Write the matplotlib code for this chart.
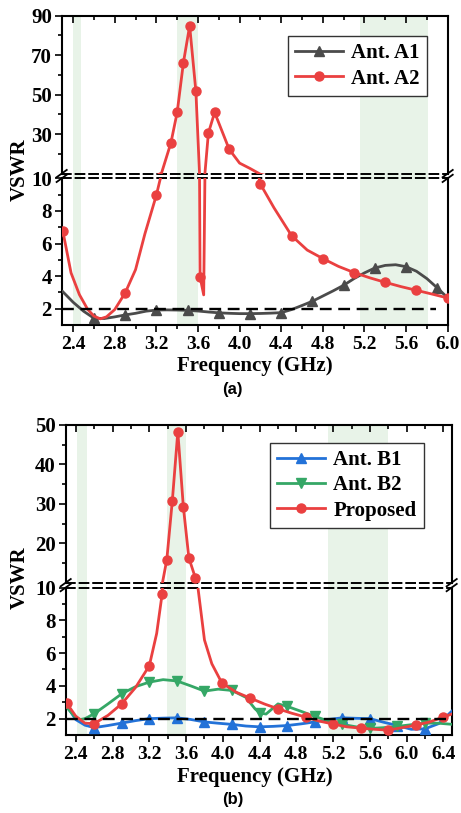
import matplotlib
matplotlib.use('Agg')
import matplotlib.pyplot as plt
from matplotlib.lines import Line2D
from matplotlib.ticker import MultipleLocator, FixedLocator, FormatStrFormatter

plt.rcParams['font.family'] = ['Liberation Serif', 'DejaVu Serif']
plt.rcParams['font.weight'] = 'bold'
plt.rcParams['axes.labelweight'] = 'bold'

# ---- (a) reference antennas A1 / A2
a1_freq = [2.3, 2.4, 2.5, 2.6, 2.7, 2.8, 2.9, 3.0, 3.1, 3.2, 3.3, 3.4, 3.5,
           3.6, 3.7, 3.8, 3.9, 4.0, 4.1, 4.2, 4.3, 4.4, 4.5, 4.6, 4.7, 4.8,
           4.9, 5.0, 5.1, 5.2, 5.3, 5.4, 5.5, 5.6, 5.7, 5.8, 5.9, 6.0]
a1_vswr = [3.05, 2.4, 1.85, 1.42, 1.4, 1.5, 1.62, 1.72, 1.85, 1.92, 1.93,
           1.92, 1.9, 1.86, 1.8, 1.75, 1.72, 1.7, 1.7, 1.71, 1.73, 1.76,
           1.95, 2.2, 2.46, 2.78, 3.1, 3.44, 3.85, 4.2, 4.5, 4.66, 4.7,
           4.58, 4.3, 3.85, 3.28, 2.67]
a1_marks = [2.6, 2.9, 3.2, 3.5, 3.8, 4.1, 4.4, 4.7, 5.0, 5.3, 5.6, 5.9]

a2_freq = [2.3, 2.38, 2.46, 2.54, 2.6, 2.66, 2.72, 2.8, 2.9, 3.0, 3.09, 3.2,
           3.25, 3.34, 3.4, 3.46, 3.52, 3.58, 3.62, 3.655, 3.7, 3.76, 3.9,
           4.0, 4.1, 4.2, 4.33, 4.5, 4.65, 4.8, 4.95, 5.1, 5.25, 5.4, 5.55,
           5.7, 5.85, 6.0]
a2_vswr = [6.8, 4.2, 2.87, 1.96, 1.55, 1.38, 1.5, 1.95, 2.97, 4.4, 6.6, 8.97,
           10.3, 25.6, 41.0, 66.2, 84.9, 51.6, 3.95, 2.85, 30.5, 41.0, 22.3,
           15.3, 12.6, 9.65, 8.2, 6.48, 5.6, 5.08, 4.6, 4.22, 3.9, 3.62,
           3.36, 3.13, 2.9, 2.66]
a2_marks = [2.3, 2.9, 3.2, 3.34, 3.4, 3.46, 3.52, 3.58, 3.62, 3.7, 3.76, 3.9,
            4.2, 4.5, 4.8, 5.1, 5.4, 5.7, 6.0]

# ---- (b) antennas B1 / B2 and the proposed design
b1_freq = [2.3, 2.4, 2.5, 2.6, 2.75, 2.9, 3.05, 3.2, 3.35, 3.5, 3.65, 3.8,
           3.95, 4.1, 4.25, 4.4, 4.55, 4.7, 4.85, 5.0, 5.15, 5.3, 5.45, 5.6,
           5.75, 5.9, 6.05, 6.2, 6.35, 6.5]
b1_vswr = [2.8, 1.94, 1.6, 1.45, 1.58, 1.73, 1.88, 2.0, 2.03, 2.05, 1.95,
           1.8, 1.72, 1.65, 1.55, 1.5, 1.53, 1.58, 1.68, 1.8, 1.95, 2.05,
           2.02, 2.0, 1.78, 1.58, 1.35, 1.38, 1.7, 2.5]
b1_marks = [2.6, 2.9, 3.2, 3.5, 3.8, 4.1, 4.4, 4.7, 5.0, 5.3, 5.6, 5.9, 6.2]

b2_freq = [2.3, 2.4, 2.45, 2.5, 2.6, 2.75, 2.9, 3.05, 3.2, 3.35, 3.5, 3.65,
           3.8, 3.95, 4.1, 4.25, 4.35, 4.4, 4.47, 4.6, 4.7, 4.85, 5.0, 5.15,
           5.3, 5.45, 5.6, 5.75, 5.9, 6.05, 6.2, 6.35, 6.5]
b2_vswr = [2.7, 2.05, 1.95, 2.0, 2.3, 2.9, 3.52, 3.95, 4.23, 4.38, 4.3, 4.0,
           3.68, 3.8, 3.72, 3.3, 2.6, 2.35, 2.28, 2.9, 2.75, 2.45, 2.14,
           1.85, 1.65, 1.5, 1.4, 1.45, 1.53, 1.63, 1.73, 1.72, 1.65]
b2_marks = [2.6, 2.9, 3.2, 3.5, 3.8, 4.1, 4.4, 4.7, 5.0, 5.3, 5.6, 5.9, 6.2]

prop_freq = [2.3, 2.4, 2.5, 2.6, 2.75, 2.9, 3.05, 3.2, 3.28, 3.34, 3.39, 3.45,
             3.51, 3.57, 3.63, 3.7, 3.8, 3.88, 3.99, 4.15, 4.3, 4.45, 4.6,
             4.75, 4.9, 5.05, 5.2, 5.35, 5.5, 5.65, 5.8, 5.95, 6.1, 6.25,
             6.4, 6.5]
prop_vswr = [2.95, 2.15, 1.72, 1.7, 2.2, 2.91, 3.9, 5.23, 7.2, 9.63, 15.8,
             30.7, 48.3, 29.3, 16.3, 11.3, 6.8, 5.35, 4.17, 3.6, 3.25, 2.9,
             2.6, 2.33, 2.1, 1.85, 1.67, 1.5, 1.42, 1.35, 1.3, 1.45, 1.6,
             1.8, 2.1, 2.3]
prop_marks = [2.3, 2.6, 2.9, 3.2, 3.34, 3.39, 3.45, 3.51, 3.57, 3.63, 3.7,
              3.99, 4.3, 4.6, 4.9, 5.2, 5.5, 5.8, 6.1, 6.4]

# operating bands (GHz)
bands_a = [(2.4, 2.48), (3.4, 3.6), (5.16, 5.81)]
bands_b = [(2.41, 2.52), (3.39, 3.6), (5.14, 5.8)]
vswr_limit = 2
break_at = 10

band_color = '#e8f3e8'
dash = (0, (4.5, 2.5))

fig = plt.figure(figsize=(4.61, 8.13), dpi=100)


def break_marks(x, y0, y1):
    # little "//" across the spine where the axis is cut
    dx, dy = 0.011, 0.0045
    for y in (y0, y1):
        fig.add_artist(Line2D([x - dx, x + dx], [y - dy, y + dy],
                              transform=fig.transFigure, color='k', lw=1.3))


def draw_panel(left, width, up_bot, up_h, lo_bot, lo_h, xlim, up_lim,
               up_major, up_minor, series, bands, ref_end, leg_anchor):
    ax_up = fig.add_axes([left, up_bot, width, up_h])
    ax_lo = fig.add_axes([left, lo_bot, width, lo_h])
    gap = (lo_bot + lo_h - up_bot) / up_h

    for ax in (ax_up, ax_lo):
        for f0, f1 in bands:
            if ax is ax_up:
                ax.axvspan(f0, f1, ymin=gap, ymax=1, color=band_color,
                           lw=0, zorder=0, clip_on=False)
            else:
                ax.axvspan(f0, f1, color=band_color, lw=0, zorder=0)
        for freq, vswr, marks, color, marker, ms, label in series:
            # only put symbols on points that belong to this part of the axis
            idx = [freq.index(m) for m in marks
                   if (vswr[freq.index(m)] >= break_at) == (ax is ax_up)]
            ax.plot(freq, vswr, color=color, lw=2.0, marker=marker, ms=ms,
                    markevery=idx, label=label, zorder=3)
        ax.set_xlim(*xlim)
        ax.xaxis.set_major_locator(MultipleLocator(0.4))
        ax.xaxis.set_minor_locator(MultipleLocator(0.2))
        ax.xaxis.set_major_formatter(FormatStrFormatter('%.1f'))
        for s in ax.spines.values():
            s.set_linewidth(1.5)
        ax.tick_params(axis='both', which='both', width=1.2)
        ax.tick_params(axis='x', labelsize=14)
        ax.tick_params(axis='y', labelsize=15)
        ax.tick_params(axis='both', which='major', length=5)
        ax.tick_params(axis='both', which='minor', length=3)
        ax.tick_params(axis='y', which='both', direction='out', right=False,
                       pad=2)

    ax_up.set_ylim(*up_lim)
    ax_up.yaxis.set_major_locator(FixedLocator(up_major))
    ax_up.yaxis.set_minor_locator(FixedLocator(up_minor))
    ax_up.tick_params(axis='x', which='both', direction='in', top=True,
                      bottom=False, labelbottom=False)
    ax_up.spines['bottom'].set_linestyle(dash)
    ax_up.spines['bottom'].set_linewidth(1.4)

    ax_lo.set_ylim(1, break_at)
    ax_lo.yaxis.set_major_locator(FixedLocator([2, 4, 6, 8, 10]))
    ax_lo.yaxis.set_minor_locator(FixedLocator([3, 5, 7, 9]))
    ax_lo.tick_params(axis='x', which='both', direction='out', top=False,
                      pad=3)
    ax_lo.spines['top'].set_linestyle(dash)
    ax_lo.spines['top'].set_linewidth(1.4)
    ax_lo.axhline(vswr_limit, xmin=0, xmax=ref_end, color='k', lw=1.7,
                  ls=(0, (5, 2.8)), zorder=4)

    break_marks(left, up_bot, lo_bot + lo_h)
    break_marks(left + width, up_bot, lo_bot + lo_h)

    leg = ax_up.legend(loc='upper right', bbox_to_anchor=leg_anchor,
                       borderaxespad=0, fancybox=False, edgecolor='#333333',
                       fontsize=15, handlelength=2.3, handletextpad=0.4,
                       borderpad=0.35, labelspacing=0.25, framealpha=1)
    leg.get_frame().set_linewidth(1.0)
    return ax_up, ax_lo


series_a = [
    (a1_freq, a1_vswr, a1_marks, '#4b4b4b', '^', 7, 'Ant. A1'),
    (a2_freq, a2_vswr, a2_marks, '#ea4040', 'o', 6.5, 'Ant. A2'),
]
series_b = [
    (b1_freq, b1_vswr, b1_marks, '#2372d8', '^', 7, 'Ant. B1'),
    (b2_freq, b2_vswr, b2_marks, '#35a766', 'v', 7, 'Ant. B2'),
    (prop_freq, prop_vswr, prop_marks, '#ea4040', 'o', 6.5, 'Proposed'),
]

draw_panel(0.1338, 0.8373, 0.7865, 0.1942, 0.6002, 0.1804, (2.29, 6.0),
           (10, 90), [30, 50, 70, 90], [20, 40, 60, 80], series_a, bands_a,
           0.97, (0.946, 0.871))
draw_panel(0.1425, 0.8373, 0.2833, 0.194, 0.0959, 0.1814, (2.29, 6.49),
           (10, 50), [20, 30, 40, 50], [15, 25, 35, 45], series_b, bands_b,
           0.985, (0.928, 0.886))

for y in (0.791, 0.289):
    fig.text(0.043, y, 'VSWR', rotation=90, ha='center', va='center',
             fontsize=15, fontweight='bold')
for y in (0.5498, 0.0443):
    fig.text(0.553, y, 'Frequency (GHz)', ha='center', va='center',
             fontsize=15, fontweight='bold')
for y, tag in ((0.5203, '(a)'), (0.016, '(b)')):
    fig.text(0.505, y, tag, ha='center', va='center', fontsize=12,
             fontweight='bold', family=['Liberation Sans', 'DejaVu Sans'])

fig.savefig('out.png', dpi=100)
